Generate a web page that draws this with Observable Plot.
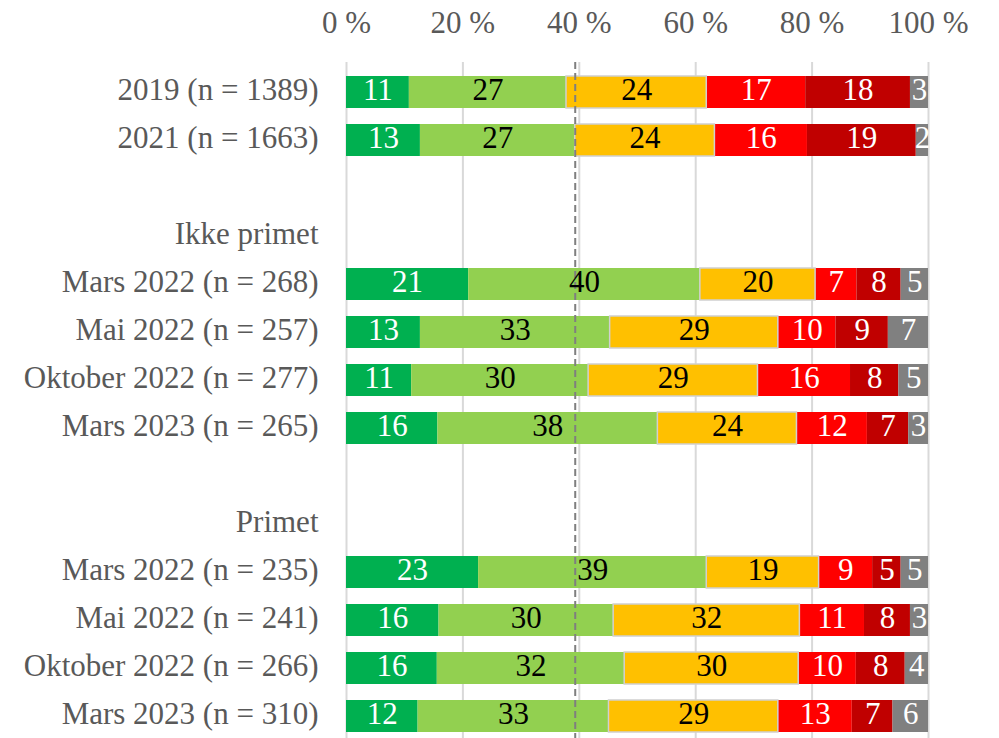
<!DOCTYPE html>
<html><head><meta charset="utf-8">
<script src="https://cdn.jsdelivr.net/npm/d3@7"></script>
<script src="https://cdn.jsdelivr.net/npm/@observablehq/plot@0.6"></script>
<style>body{margin:0;background:#fff} svg{display:block}</style>
</head><body><div id="chart"></div>
<script>
// y rows (blank spacer rows and group headers included)
const rowOrder = ["2019 (n = 1389)", "2021 (n = 1663)", "blank1", "Ikke primet",
  "Mars 2022 (n = 268)", "Mai 2022 (n = 257)", "Oktober 2022 (n = 277)", "Mars 2023 (n = 265)",
  "blank2", "Primet",
  "Mars 2022 (n = 235)", "Mai 2022 (n = 241)", "Oktober 2022 (n = 266)", "Mars 2023 (n = 310)"];
const dataRows = ["2019 (n = 1389)", "2021 (n = 1663)",
  "Mars 2022 (n = 268)", "Mai 2022 (n = 257)", "Oktober 2022 (n = 277)", "Mars 2023 (n = 265)",
  "Mars 2022 (n = 235)", "Mai 2022 (n = 241)", "Oktober 2022 (n = 266)", "Mars 2023 (n = 310)"];
const categories = ["Svært positiv", "Positiv", "Nøytral", "Negativ", "Svært negativ", "Vet ikke"];
const catColors = ["#00B050", "#92D050", "#FFC000", "#FF0000", "#C00000", "#808080"];
const catText = ["#ffffff", "#000000", "#000000", "#ffffff", "#ffffff", "#ffffff"];
// percentage shares per category
const darkGreen  = [10.8, 12.7, 21.0, 12.7, 11.2, 15.7, 22.7, 15.9, 15.6, 12.3];
const lightGreen = [27.0, 26.6, 39.8, 32.6, 30.4, 37.8, 39.2, 30.0, 32.2, 32.8];
const yellow     = [24.1, 24.0, 19.8, 28.9, 29.1, 23.9, 19.3, 32.0, 29.9, 29.1];
const red        = [17.0, 15.9,  7.1,  9.9, 15.9, 12.1,  9.2, 11.1,  9.9, 12.7];
const darkRed    = [18.0, 18.7,  7.6,  9.0,  8.3,  7.1,  4.9,  7.9,  8.4,  7.0];
const grey       = [ 3.1,  2.1,  4.7,  6.9,  5.1,  3.4,  4.7,  3.1,  4.0,  6.1];
const xTicks = [0, 20, 40, 60, 80, 100];
const refLine = 39.3;

const series = [darkGreen, lightGreen, yellow, red, darkRed, grey];
const long = [];
dataRows.forEach((r, i) => {
  series.forEach((s, c) => {
    long.push({row: r, cat: categories[c], ci: c, value: s[i],
      color: catColors[c], tcolor: catText[c]});
  });
});

const font = "'Liberation Serif', 'DejaVu Serif', serif";
const chart = Plot.plot({
  width: 999, height: 738,
  marginLeft: 346, marginRight: 71, marginTop: 62, marginBottom: 0,
  style: {fontFamily: font, fontSize: "31px", background: "#fff"},
  x: {domain: [0, 100], axis: null, label: null},
  y: {domain: rowOrder, range: [55.8, 751.8], padding: 0.34, axis: null, label: null},
  marks: [
    Plot.gridX({ticks: xTicks, stroke: "#d9d9d9", strokeOpacity: 1, strokeWidth: 2}),
    Plot.barX(long, Plot.stackX({x: "value", y: "row", z: "cat", order: null, fill: "color"})),
    Plot.barX(long, Plot.stackX({x: "value", y: "row", z: "cat", order: null, fill: "none",
      stroke: "#d0d0d0", strokeWidth: 1.5, strokeOpacity: d => d.ci === 2 ? 1 : 0})),
    Plot.ruleX([refLine], {stroke: "#7f7f7f", strokeWidth: 2, strokeDasharray: "7,4"}),
    Plot.text(long, Plot.stackX({x: "value", y: "row", z: "cat", order: null,
      text: d => String(Math.round(d.value)), fill: "tcolor", fontSize: 31, dy: -2})),
    Plot.axisX({anchor: "top", ticks: xTicks, tickFormat: d => d + " %", tickSize: 0,
      tickPadding: 30, fill: "#595959", fontSize: 31, label: null}),
    Plot.axisY({anchor: "left", tickSize: 0, tickPadding: 28, fill: "#595959", fontSize: 31,
      dy: -2, label: null, tickFormat: d => d.startsWith("blank") ? "" : d})
  ]
});
document.getElementById("chart").appendChild(chart);
</script>
</body></html>
